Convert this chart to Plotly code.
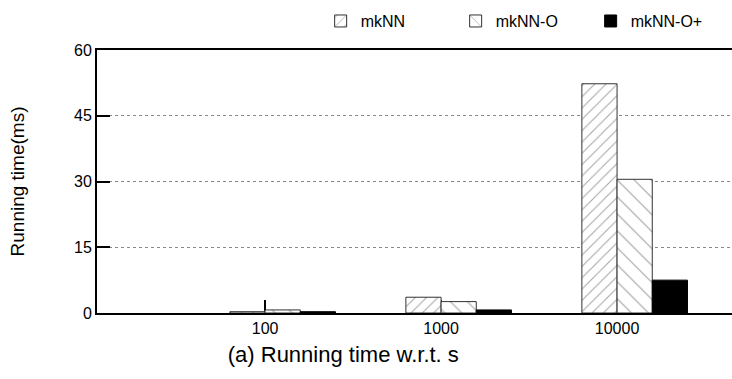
import plotly.graph_objects as go

categories = ["100", "1000", "10000"]
mknn = [0.3, 3.6, 52.3]
mknn_o = [0.7, 2.6, 30.5]
mknn_o_plus = [0.3, 0.7, 7.5]
y_ticks = [0, 15, 30, 45, 60]

FONT = "Liberation Sans, Arial, sans-serif"
xpos = list(range(len(categories)))

fig = go.Figure()
fig.add_trace(go.Bar(
    name="mkNN", x=xpos, y=mknn, width=0.2, offset=-0.2,
    marker=dict(color="white", line=dict(color="#333", width=1),
                pattern=dict(shape="/", fgcolor="#444", bgcolor="white", size=8, solidity=0.12)),
))
fig.add_trace(go.Bar(
    name="mkNN-O", x=xpos, y=mknn_o, width=0.2, offset=0.0,
    marker=dict(color="white", line=dict(color="#333", width=1),
                pattern=dict(shape="\\", fgcolor="#444", bgcolor="white", size=12, solidity=0.09)),
))
fig.add_trace(go.Bar(
    name="mkNN-O+", x=xpos, y=mknn_o_plus, width=0.2, offset=0.2,
    marker=dict(color="black", line=dict(color="black", width=1)),
))

fig.update_layout(
    width=732, height=379,
    margin=dict(l=97, r=0, t=50, b=66),
    paper_bgcolor="white", plot_bgcolor="white",
    barmode="overlay",
    font=dict(family=FONT, size=16, color="black"),
    showlegend=True,
    legend=dict(orientation="h", x=0.99, xanchor="right", y=1.11, yanchor="middle",
                font=dict(size=16), bgcolor="rgba(0,0,0,0)", traceorder="normal",
                entrywidth=90, entrywidthmode="pixels"),
    title=dict(text="(a) Running time w.r.t. s", x=0.469, xanchor="center",
               y=0.065, yanchor="middle", font=dict(size=22, family=FONT)),
)
fig.update_xaxes(
    range=[-0.955, 2.653], tickmode="array", tickvals=xpos, ticktext=categories,
    showline=True, linecolor="black", linewidth=2, mirror=True,
    ticks="inside", ticklen=13, tickcolor="black", tickwidth=1.5,
    showgrid=False, zeroline=False, tickfont=dict(size=16), layer="below traces",
)
fig.update_yaxes(
    range=[0, 60], tickmode="array", tickvals=y_ticks,
    showline=True, linecolor="black", linewidth=2, mirror=False,
    ticks="inside", ticklen=13, tickcolor="black", tickwidth=1.5,
    showgrid=True, gridcolor="#888", griddash="dot", gridwidth=1,
    zeroline=False, tickfont=dict(size=16), layer="below traces",
    title=dict(text="Running time(ms)", font=dict(size=19), standoff=44),
)
fig.write_html("out.html")
